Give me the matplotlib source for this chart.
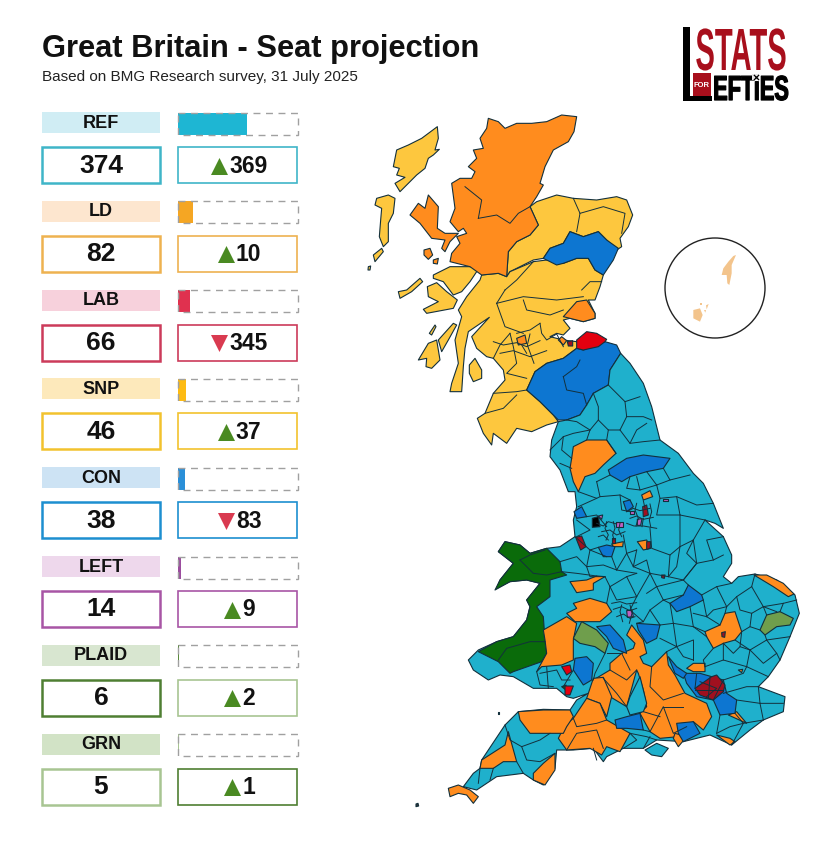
import matplotlib
matplotlib.use("Agg")
import matplotlib.pyplot as plt
from matplotlib.patches import Rectangle, Polygon, Circle
from matplotlib.patheffects import AbstractPathEffect
from matplotlib.transforms import Affine2D

plt.rcParams['font.family'] = ['Liberation Sans', 'DejaVu Sans']

# --- Data ---
parties = ["REF", "LD", "LAB", "SNP", "CON", "LEFT", "PLAID", "GRN"]
seats = [374, 82, 66, 46, 38, 14, 6, 5]
changes = [369, 10, -345, 37, -83, 9, 2, 1]
total_seats = 650

label_bg = ["#d0edf4", "#fde6cf", "#f7d1dc", "#fde9bb", "#cde3f4", "#eed8ec", "#d8e6d0", "#d2e3c6"]
bar_col = ["#1eb6d3", "#f5a623", "#e0314f", "#fdbb13", "#2a8fd8", "#9b4d9e", "#5a8a3c", "#a8c592"]
box_col = ["#3fb5c8", "#eeb250", "#cc3b5a", "#f2c22e", "#1d8fd0", "#a855a5", "#4f7f32", "#a8c592"]
chg_col = ["#3fb5c8", "#eeb250", "#cc3b5a", "#f2c22e", "#1d8fd0", "#a855a5", "#a8c592", "#4f7f32"]

REF_C, LD_C, SNP_C, CON_C = "#1fb0cc", "#ff8c1e", "#fdc73e", "#0d76d1"
LAB_C, LAB_D, PLAID_C, GRN_C, LEFT_C = "#e3000f", "#a0101f", "#0a6b0a", "#6f9e4c", "#c060c0"

# --- Map outlines (Scotland and England/Wales crops) ---
scot_snp = [
    [(262,80),(265,115),(255,150),(268,148),(250,165),(235,175),(225,205),(200,225),(180,245),(150,275),(135,250),(165,232),(140,225),(148,205),(130,200),(140,150),(175,135),(215,115)],
    [(80,295),(115,285),(135,295),(130,340),(115,370),(115,425),(100,440),(88,410),(92,360),(95,325),(75,315)],
    [(70,465),(95,445),(100,455),(75,485)],
    [(55,500),(62,498),(60,510),(54,510)],
    [(540,320),(560,305),(620,285),(670,295),(740,300),(800,290),(830,300),(848,345),(835,380),(810,415),(815,440),(800,450),(770,420),(745,395),(700,410),(660,395),(640,430),(600,445),(580,475),(550,480),(480,515),(470,530),(475,455),(500,425),(540,405),(565,375)],
    [(395,525),(445,520),(470,530),(480,515),(550,485),(590,480),(640,490),(680,475),(715,475),(735,510),(760,525),(750,560),(735,600),(715,600),(735,640),(735,655),(700,665),(660,655),(640,660),(660,685),(640,705),(620,700),(600,710),(640,720),(680,725),(695,745),(680,745),(640,775),(590,790),(555,815),(530,870),(570,905),(610,945),(625,965),(590,975),(545,995),(500,985),(470,1030),(430,1000),(425,1035),(400,1000),(382,955),(405,940),(430,880),(465,840),(460,810),(430,775),(410,770),(380,745),(365,710),(418,652),(355,695),(345,745),(340,800),(335,875),(300,875),(305,850),(325,790),(315,720),(335,650),(325,630),(350,590),(390,540)],
    [(250,525),(300,500),(390,500),(360,545),(335,575),(310,585),(280,545),(250,535)],
    [(232,560),(260,548),(290,575),(322,600),(310,625),(230,640),(220,628),(265,605),(235,590)],
    [(145,575),(170,570),(210,535),(218,545),(185,575),(150,595)],
    [(205,780),(235,730),(260,720),(270,780),(245,805),(228,800),(230,775)],
    [(265,720),(310,670),(320,675),(295,720),(275,755)],
    [(238,700),(255,675),(258,680),(245,705)],
    [(358,795),(375,775),(395,810),(395,835),(370,845),(358,820)],
]
scot_ld = [
    [(415,55),(445,65),(465,85),(500,70),(545,70),(590,65),(635,45),(680,50),(672,95),(655,125),(610,150),(585,200),(570,250),(580,255),(560,290),(540,320),(565,375),(540,405),(500,425),(475,455),(470,530),(445,520),(395,525),(360,500),(300,485),(305,460),(330,430),(320,410),(350,400),(340,385),(325,395),(300,365),(315,325),(305,250),(330,235),(365,235),(375,215),(355,200),(380,175),(370,150),(400,145),(390,115),(410,85)],
    [(180,345),(205,310),(225,325),(235,285),(265,320),(262,385),(285,400),(325,400),(300,425),(285,455),(275,445),(285,420),(245,415),(210,370)],
    [(222,450),(240,445),(248,465),(235,478),(222,465)],
    [(250,480),(265,475),(262,492),(250,490)],
    [(640,650),(680,605),(710,600),(735,640),(735,655),(700,665),(660,655)],
    [(625,720),(635,710),(650,722),(640,735)],
    [(500,715),(525,705),(530,730),(505,735)],
]
scot_con = [
    [(580,475),(600,445),(640,430),(660,395),(700,410),(745,395),(770,420),(805,445),(790,480),(760,525),(735,510),(715,475),(680,475),(640,490),(620,495),(590,480)],
    [(530,870),(555,815),(590,790),(640,775),(680,745),(700,750),(765,725),(800,735),(812,760),(780,810),(775,855),(730,880),(710,915),(690,945),(650,960),(625,960),(610,945),(570,905)],
]
scot_lab = [
    [(680,720),(710,695),(740,700),(770,718),(765,725),(745,740),(700,750),(680,745)],
]
scot_lab_dark = [[(652,725),(668,722),(668,738),(655,738)]]
scot_lines = [
    [(385,355),(440,345),(480,370),(505,340),(540,320)],
    [(385,355),(395,300),(345,260)],
    [(670,295),(690,340),(680,395)],
    [(690,340),(760,320),(825,340),(815,400)],
    [(695,570),(720,545),(755,545)],
    [(440,610),(520,590),(620,600),(700,590)],
    [(520,600),(530,630),(600,645),(640,630)],
    [(440,610),(465,680),(520,700)],
    [(465,570),(500,540),(550,485)],
    [(465,570),(440,610)],
    [(430,725),(460,735),(500,728),(530,740),(570,722)],
    [(450,760),(490,752),(540,770),(590,752)],
    [(480,700),(490,740),(500,790),(470,820),(530,835)],
    [(540,702),(532,735),(552,790)],
    [(570,670),(575,700),(590,720),(620,702),(640,740)],
    [(515,735),(530,760)],
    [(430,775),(450,735),(480,700)],
    [(500,700),(540,690),(570,670)],
    [(430,880),(500,875),(530,870)],
    [(405,940),(460,925),(500,885)],
    [(640,830),(680,800),(690,780)],
    [(640,830),(650,870),(700,880),(710,915)],
]

eng_ref = [
    # mainland outline, England plus the Welsh borders and the south Wales valleys
    [(385,-55),(410,-60),(450,-75),(470,-105),(490,-140),(535,-165),(540,-210),(572,-260),(600,-230),(640,-170),(665,-100),(690,0),(745,40),(790,100),(820,130),(850,190),(880,265),(855,250),(825,240),(880,290),(905,345),(905,370),(880,410),(905,430),(925,410),(975,402),(1040,420),(1095,465),(1108,520),(1080,590),(1050,660),(1015,710),(985,740),(1065,770),(1060,815),(1000,840),(960,870),(905,915),(840,885),(760,905),(680,900),(640,925),(580,925),(530,950),(520,965),(490,925),(430,930),(380,930),(375,985),(340,1035),(310,1020),(280,1000),(200,1010),(140,1050),(100,1040),(130,1000),(150,985),(155,960),(225,855),(265,815),(340,808),(420,810),(440,780),(475,760),(430,775),(410,770),(380,745),(310,745),(250,710),(210,705),(175,720),(130,690),(115,660),(145,630),(200,605),(250,590),(290,540),(300,500),(290,480),(330,430),(290,420),(240,425),(200,445),(210,420),(250,370),(205,335),(225,305),(270,315),(300,340),(350,325),(390,320),(435,290),(430,240),(440,200),(435,155),(415,155),(390,90),(360,50),(365,0)],
    [(645,930),(680,910),(715,925),(695,950),(665,945)],
]
eng_ld = [
    [(55,1045),(85,1035),(120,1050),(145,1070),(130,1090),(110,1065),(85,1060),(60,1070)],
    [(430,20),(470,0),(530,0),(558,40),(520,75),(495,100),(465,110),(445,155),(430,125),(420,85),(425,55)],
    [(635,165),(660,152),(668,170),(640,180)],
    [(545,312),(580,305),(578,320),(550,320)],
    [(622,305),(650,300),(662,325),(640,330)],
    [(420,425),(470,420),(500,408),(525,410),(490,430),(490,450),(440,458)],
    [(430,490),(480,475),(530,490),(545,515),(510,545),(470,545),(435,545),(410,520),(440,505)],
    [(340,570),(410,530),(440,550),(430,600),(430,660),(395,675),(335,680),(320,695),(350,640),(345,600)],
    [(825,575),(870,555),(885,520),(915,515),(935,575),(915,600),(880,610),(850,625),(830,590)],
    [(972,405),(1010,405),(1060,430),(1092,462),(1075,470),(1030,440)],
    [(590,585),(605,555),(640,600),(650,640),(630,650),(640,670),(665,680),(710,635),(715,675),(735,705),(765,760),(830,790),(845,830),(820,870),(790,845),(770,860),(745,890),(690,895),(660,875),(630,820),(650,800),(640,750),(625,700),(620,690),(590,800),(540,770),(520,715),(490,720),(540,690),(540,670),(575,640),(610,625),(615,610)],
    [(490,715),(520,712),(545,770),(530,830),(510,790),(470,775)],
    [(430,835),(470,775),(510,790),(530,840),(600,880),(570,935),(530,920),(515,945),(480,925),(410,930),(385,895),(405,855)],
    [(265,815),(340,810),(420,810),(430,830),(410,860),(400,880),(360,880),(300,880),(270,840)],
    [(150,985),(155,960),(225,915),(235,875),(260,965),(220,965),(190,985)],
    [(310,1000),(340,970),(375,940),(375,990),(345,1035),(310,1020)],
    [(735,880),(770,890),(745,920),(730,895)],
    [(860,885),(900,895),(915,905),(900,915)],
    [(895,825),(920,815),(950,850)],
    [(770,685),(790,670),(825,670),(825,695),(790,695)],
    [(925,690),(938,688),(935,698)],
]
eng_ref_holes = [
    [(600,770),(630,710),(650,790),(640,815),(600,825),(590,800)],
]
eng_con = [
    [(535,90),(590,55),(640,45),(720,55),(700,85),(650,95),(600,110),(575,125),(540,105)],
    [(432,215),(455,200),(470,230),(440,235)],
    [(580,185),(600,180),(610,200),(590,215)],
    [(505,322),(530,315),(555,320),(545,350),(520,350)],
    [(435,655),(470,650),(490,670),(485,720),(460,735),(430,690)],
    [(500,560),(540,555),(580,600),(590,640),(550,625),(530,590)],
    [(620,550),(690,555),(680,595),(650,610),(625,570)],
    [(720,490),(760,465),(775,435),(815,465),(820,480),(780,500),(740,515)],
    [(555,840),(590,830),(630,820),(640,870),(590,865),(560,865)],
    [(740,850),(790,845),(810,880),(760,905),(745,880)],
    [(760,700),(810,700),(880,720),(890,760),(920,780),(915,820),(870,825),(850,780),(800,770),(770,730)],
    [(715,650),(740,680),(770,700),(760,715),(735,700)],
]
eng_lab = [
    [(395,680),(420,675),(425,695),(410,705)],
    [(405,738),(430,738),(420,765),(405,765)],
]
eng_lab_dark = [
    [(638,200),(650,195),(655,225),(640,230)],
    [(437,292),(455,288),(468,320),(452,330)],
    [(650,305),(662,305),(660,325),(650,328)],
    [(795,745),(845,710),(860,705),(885,735),(880,755),(850,780),(810,765)],
    [(875,578),(886,575),(884,592),(876,590)],
    [(545,295),(555,295),(555,308),(545,308)],
    [(695,405),(705,405),(703,415),(695,413)],
]
eng_plaid = [
    [(205,335),(225,305),(270,315),(300,340),(350,325),(390,365),(395,395),(410,405),(360,420),(360,470),(320,500),(340,530),(345,600),(350,640),(335,665),(250,695),(240,700),(205,665),(145,635),(200,605),(250,590),(290,540),(300,500),(290,480),(330,430),(290,420),(240,425),(195,450),(210,420),(250,370)],
    [(395,740),(408,735),(410,752)],
]
eng_grn = [
    [(430,595),(455,545),(500,570),(535,610),(525,640),(495,620),(450,610)],
    [(990,570),(1010,525),(1050,515),(1090,535),(1080,555),(1040,560),(1005,585)],
]
eng_left = [
    [(600,212),(612,212),(612,222),(600,222)],
    [(558,245),(578,245),(578,262),(558,262)],
    [(622,238),(636,236),(632,256),(622,256)],
    [(505,228),(518,225),(515,238)],
    [(590,512),(606,510),(610,530),(592,532)],
    [(700,176),(714,176),(714,184),(700,184)],
]
eng_black = [[(487,235),(505,230),(510,260),(487,262)]]
eng_lines = [
    [(535,-165),(560,-140),(585,-115),(630,-130)],
    [(490,-140),(505,-100),(505,-60),(535,-30),(570,-30),(590,-70),(585,-115)],
    [(410,-60),(440,-55),(480,-30),(505,-60)],
    [(360,30),(400,-10),(430,-20),(480,-30)],
    [(480,-30),(470,0)],
    [(535,-30),(530,0),(558,40)],
    [(570,-30),(600,10),(640,5),(690,0)],
    [(590,-70),(640,-70),(665,-60)],
    [(600,10),(620,-30),(650,-50)],
    [(400,-10),(395,30),(425,55)],
    [(425,85),(390,70)],
    [(500,125),(540,105)],
    [(500,125),(510,170),(570,165),(600,180)],
    [(445,155),(500,175),(510,170)],
    [(700,85),(720,120),(780,105)],
    [(650,95),(680,135),(720,120)],
    [(680,135),(690,175),(740,170),(800,195),(850,190)],
    [(620,110),(630,150),(680,135)],
    [(600,110),(590,145),(630,150)],
    [(740,170),(750,225),(825,240)],
    [(690,175),(680,225),(750,225)],
    [(570,165),(575,210),(600,215)],
    [(445,200),(500,175)],
    [(470,230),(500,225),(530,260)],
    [(440,240),(480,270),(440,290)],
    # Manchester
    [(500,250),(520,258),(535,245),(560,252)],
    [(515,275),(540,270),(560,285),(585,275)],
    [(530,245),(525,265),(535,285),(528,300)],
    [(550,245),(555,265),(548,285),(552,300)],
    [(570,250),(566,270),(575,290)],
    [(505,290),(520,285),(535,300)],
    # Leeds
    [(590,215),(610,205),(630,212),(660,205)],
    [(600,235),(620,228),(640,238),(670,232)],
    [(620,190),(615,210),(625,235),(618,258)],
    [(640,182),(645,205)],
    [(640,235),(636,260)],
    [(660,192),(665,215),(658,240),(662,260)],
    [(590,250),(612,258),(640,258),(680,265)],
    # Midlands and east
    [(580,285),(590,340),(560,390),(620,400)],
    [(660,265),(665,325),(720,345),(750,320),(750,225)],
    [(750,320),(790,300),(825,240)],
    [(790,300),(800,370),(850,360),(880,345)],
    [(850,360),(830,300),(880,290)],
    [(720,345),(715,410),(760,420),(800,370)],
    [(620,330),(610,380),(660,400),(715,410)],
    [(435,290),(480,330),(505,322)],
    [(480,330),(470,380),(520,375),(560,390)],
    [(480,330),(530,350)],
    [(545,350),(560,390)],
    [(590,340),(620,330)],
    [(610,380),(590,340)],
    [(470,380),(480,410),(525,410)],
    [(660,400),(650,360),(610,380)],
    [(715,410),(740,380),(750,320)],
    [(800,370),(770,340),(790,300)],
    [(760,420),(780,395),(800,370)],
    [(390,365),(440,350),(470,380)],
    [(395,395),(440,400),(500,408)],
    [(525,410),(540,440),(590,410),(620,400)],
    [(540,440),(530,490)],
    [(540,440),(560,480),(620,470)],
    [(590,410),(620,470),(660,400)],
    [(620,470),(600,510),(640,545),(620,550)],
    [(660,400),(680,440),(700,480),(720,490)],
    [(680,440),(720,430),(760,420)],
    [(700,480),(740,470),(760,465)],
    [(640,545),(660,510),(700,480)],
    [(660,510),(690,555)],
    [(760,420),(775,435)],
    [(650,460),(680,440)],
    [(815,465),(860,440),(905,430)],
    [(860,440),(890,500),(885,520)],
    [(820,480),(830,530),(870,555)],
    [(830,530),(790,520)],
    [(890,500),(850,510),(830,530)],
    [(780,500),(790,560),(825,575)],
    [(720,490),(730,550),(690,555)],
    [(730,550),(790,560)],
    [(935,575),(960,560),(990,570)],
    [(975,402),(965,440),(1000,500),(1010,525)],
    [(965,440),(920,470),(890,500)],
    [(920,470),(930,510),(965,520)],
    [(1000,500),(1060,490),(1100,480)],
    [(1000,500),(1040,515)],
    [(1060,490),(1050,515)],
    [(960,560),(965,520),(1000,500)],
    [(915,600),(960,630),(1010,600),(1005,585)],
    [(1080,590),(1010,600)],
    [(1010,600),(1040,640),(1050,660)],
    [(960,630),(1000,670),(1040,640)],
    [(935,575),(930,620),(960,630)],
    [(880,610),(910,640),(930,620)],
    [(960,630),(950,680),(1015,710)],
    [(880,610),(880,660),(950,680)],
    [(825,680),(880,660)],
    [(850,625),(820,660),(825,680)],
    [(790,600),(790,660)],
    [(790,560),(830,590)],
    [(730,550),(740,620),(790,600)],
    [(740,620),(760,650),(790,660)],
    [(690,595),(740,620),(710,635)],
    # Birmingham
    [(550,508),(575,500),(600,512),(620,505)],
    [(560,530),(580,522),(600,535),(615,530)],
    [(575,495),(570,515),(578,545)],
    [(600,495),(606,520),(598,550)],
    [(545,490),(570,485),(590,492),(620,488)],
    [(530,640),(575,640)],
    [(525,640),(495,700),(490,720)],
    # South east
    [(880,760),(950,740),(985,740)],
    [(880,720),(940,700),(950,680)],
    [(920,780),(990,790),(1060,790)],
    [(990,790),(985,740)],
    [(990,790),(1000,840)],
    [(915,820),(940,850),(1000,840)],
    [(870,825),(860,880)],
    [(860,880),(900,860),(940,850)],
    [(940,850),(905,915)],
    [(600,880),(650,890),(680,900)],
    [(640,870),(660,875)],
    [(640,815),(690,830)],
    [(600,880),(620,900),(580,925)],
    [(640,925),(660,890)],
    # South Wales
    [(320,695),(330,735),(370,740)],
    [(330,700),(380,690),(395,720),(420,720)],
    [(350,680),(355,745)],
    [(430,690),(400,740)],
    # South west
    [(225,855),(240,900),(275,920),(330,900),(360,880)],
    [(275,920),(290,960),(330,965),(375,940)],
    [(260,965),(280,1000)],
    [(190,985),(180,1020)],
    [(150,985),(145,1030)],
    [(430,835),(440,860),(500,850),(530,840)],
    [(410,930),(440,880),(500,870),(520,925)],
    [(490,925),(500,960)],
    [(540,690),(590,720),(620,690)],
    [(520,715),(560,760),(590,800)],
    [(575,640),(600,690)],
    [(665,680),(660,740),(700,780),(760,760)],
    [(660,875),(700,800),(730,880),(770,860)],
    [(700,800),(760,800)],
    # Wales
    [(270,360),(300,345),(345,330)],
    [(270,360),(310,400),(350,405),(395,395)],
    [(205,660),(230,625),(300,605),(345,605)],
    # London
    [(810,725),(860,745),(830,770)],
    [(840,712),(835,775)],
    [(795,750),(880,750)],
    [(800,700),(795,745)],
    [(880,720),(850,780)],
]

# Shetland and Orkney inset
isles = [
    [(250,708),(258,705),(245,735),(245,760),(238,795),(232,790),(230,765),(215,765),(220,745),(235,725)],
    [(130,870),(150,865),(158,885),(150,905),(130,895)],
    [(150,850),(156,850),(156,856),(150,856)],
    [(168,856),(176,852),(170,868)],
    [(162,870),(168,870),(166,878)],
]


class Stretch(AbstractPathEffect):
    # condensed, taller, heavier lettering for the logo
    def __init__(self, x0, y0, sx, sy, heavy=0):
        self.x0, self.y0, self.sx, self.sy, self.heavy = x0, y0, sx, sy, heavy

    def draw_path(self, renderer, gc, tpath, affine, rgbFace=None):
        a = affine + Affine2D().translate(-self.x0, -self.y0).scale(self.sx, self.sy).translate(self.x0, self.y0)
        if self.heavy:
            gc.set_linewidth(self.heavy)
            gc.set_foreground(rgbFace)
        renderer.draw_path(gc, tpath, a, rgbFace)


def logo_text(x, y, s, size, sx, sy, heavy, colour):
    # x is the middle of the word, y its baseline, both in picture pixels
    ax.text(x, y, s, fontsize=size, ha="center", va="baseline", fontweight="bold", color=colour,
            path_effects=[Stretch(x, 841 - y, sx, sy, heavy)])


def north(p):
    return [(350 + x / 3, 100 + y / 3) for x, y in p]


def south(p):
    return [(430 + x / 3, 440 + y / 3) for x, y in p]


def inset(p):
    return [(650 + x / 3, 20 + y / 3) for x, y in p]


fig = plt.figure(figsize=(8.28, 8.41), dpi=100)
ax = fig.add_axes([0, 0, 1, 1])
ax.set_xlim(0, 828)
ax.set_ylim(841, 0)
ax.axis("off")

# --- Title ---
ax.text(42, 49, "Great Britain - Seat projection", fontsize=22.2, fontweight="bold", va="center", color="#111111")
ax.text(42, 77, "Based on BMG Research survey, 31 July 2025", fontsize=11, va="center", color="#222222")

# --- Party panels ---
row_h = 88.8
for i, party in enumerate(parties):
    y0 = 112 + i * row_h
    ax.add_patch(Rectangle((42, y0), 118, 21, fc=label_bg[i], ec="none"))
    ax.text(101, y0 + 11, party, fontsize=13, fontweight="bold", ha="center", va="center", color="#111111")

    ax.add_patch(Rectangle((178, y0 + 0.5), seats[i] / total_seats * 120, 22, fc=bar_col[i], ec="none"))
    ax.add_patch(Rectangle((178, y0 + 0.5), 120, 22, fc="none", ec="#a0a0a0", lw=1.0, ls=(0, (5, 4))))

    y1 = 147 + i * row_h
    ax.add_patch(Rectangle((42, y1), 118, 36, fc="white", ec=box_col[i], lw=1.8))
    ax.text(101, y1 + 18.5, str(seats[i]), fontsize=19, fontweight="bold", ha="center", va="center", color="#111111")

    ax.add_patch(Rectangle((178.5, y1), 119, 36, fc="white", ec=chg_col[i], lw=1.2))
    txt = str(abs(changes[i]))
    w = 12.7 * len(txt)
    left = 238.5 - (18 + w) / 2
    up = changes[i] > 0
    ax.scatter([left + 9], [y1 + 18.5], s=150, marker="^" if up else "v", color="#4a8a22" if up else "#d93a50", linewidths=0, zorder=3)
    ax.text(left + 19, y1 + 19, txt, fontsize=16.5, fontweight="bold", ha="left", va="center", color="#111111")

# --- Map ---
edge = "#13303c"


def draw_shapes(shapes, conv, colour):
    for s in shapes:
        ax.add_patch(Polygon(conv(s), closed=True, fc=colour, ec=edge, lw=0.8, joinstyle="round"))


def draw_lines(lines, conv):
    for ln in lines:
        pts = conv(ln)
        ax.plot([p[0] for p in pts], [p[1] for p in pts], color=edge, lw=0.7, solid_joinstyle="round")


draw_shapes(scot_snp, north, SNP_C)
draw_shapes(scot_ld, north, LD_C)
draw_shapes(scot_con, north, CON_C)
draw_shapes(scot_lab, north, LAB_C)
draw_shapes(scot_lab_dark, north, LAB_D)
draw_lines(scot_lines, north)

draw_shapes(eng_ref, south, REF_C)
draw_shapes(eng_plaid, south, PLAID_C)
draw_shapes(eng_ld, south, LD_C)
draw_shapes(eng_ref_holes, south, REF_C)
draw_shapes(eng_con, south, CON_C)
draw_shapes(eng_grn, south, GRN_C)
draw_shapes(eng_lab, south, LAB_C)
draw_shapes(eng_lab_dark, south, LAB_D)
draw_shapes(eng_left, south, LEFT_C)
draw_shapes(eng_black, south, "#000000")
draw_lines(eng_lines, south)
draw_shapes([[(203,815),(208,815),(208,823),(203,823)]], south, "#333333")
draw_shapes([[(-42,1092),(-36,1090),(-34,1098),(-42,1100)]], south, "#333333")

# Shetland / Orkney circle
ax.add_patch(Circle((715, 288), 50, fc="white", ec="#222222", lw=1.0))
for s in isles:
    ax.add_patch(Polygon(inset(s), closed=True, fc="#f3c48c", ec="none"))

# --- Logo ---
ax.add_patch(Rectangle((683, 27), 7, 74, fc="black", ec="none"))
ax.add_patch(Rectangle((683, 96), 29, 5, fc="black", ec="none"))
ax.add_patch(Rectangle((693, 73), 18, 23, fc="#a80f1c", ec="none"))
logo_text(741, 70, "STATS", 30, 0.70, 1.43, 0, "#a80f1c")
ax.text(702, 85, "FOR", fontsize=5.5, color="white", fontweight="bold", ha="center", va="center")
logo_text(751, 100, "EFTiES", 17, 0.92, 1.47, 0.9, "black")
ax.add_patch(Rectangle((752.5, 73.5), 7, 6.5, fc="#e8e8e8", ec="none", zorder=4))
ax.scatter([756], [76.7], s=14, marker="x", color="black", linewidths=0.9, zorder=5)

fig.savefig("out.png", dpi=100)
